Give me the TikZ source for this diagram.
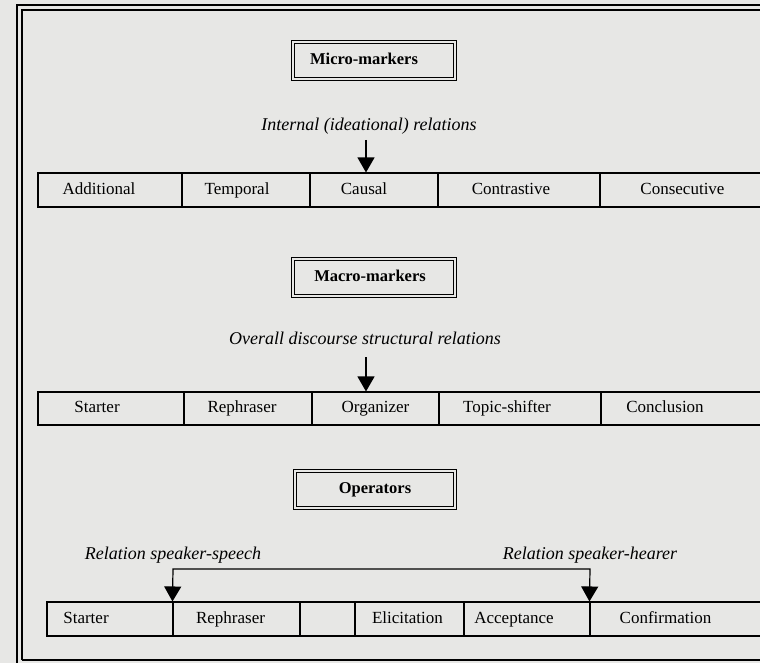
\documentclass[tikz,border=0pt]{standalone}
\usepackage{fontspec}
\setmainfont{Liberation Serif}
\usetikzlibrary{arrows.meta}
\newcommand\lsh[2]{#2\hspace*{#1}}
\begin{document}
\begin{tikzpicture}[x=1pt,y=-1pt,
  cell/.style={draw,line width=1.1pt,inner sep=0pt,minimum height=34pt,
    text height=12pt,text depth=3.5pt,
    font=\fontsize{17}{20}\selectfont},
  titlebox/.style={draw,line width=1pt,double=bgc,double distance=2pt,
    inner sep=0pt,minimum width=162pt,minimum height=37pt,
    text height=12pt,text depth=3.5pt,
    font=\fontsize{16.5}{20}\selectfont\bfseries},
  rel/.style={inner sep=0pt,font=\fontsize{18}{21}\selectfont\itshape},
  arr/.style={line width=1.2pt,-{Triangle[width=17pt,length=15pt]}},
  arrboth/.style={line width=1.2pt,{Triangle[width=17pt,length=15pt]}-{Triangle[width=17pt,length=15pt]}},
  frameline/.style={line width=1.4pt}]
\definecolor{bgc}{RGB}{231,231,229}
\useasboundingbox (0,0) rectangle (760,663);
\fill[bgc] (0,0) rectangle (760,663);
% frame
\draw[frameline] (17,663) -- (17,5) -- (762,5);
\draw[frameline] (22,660) -- (22,10) -- (762,10);
\draw[frameline] (22,660) -- (762,660);

% Micro-markers
\node[titlebox] (micro) at (373.5,60.5) {\lsh{19pt}{Micro-markers}};
\node[rel] (lab1) at (369,126) {Internal (ideational) relations};
\coordinate (s1) at (366,140);
\node[cell,minimum width=144pt] (c11) at (110,190) {\lsh{22pt}{Additional}};
\node[cell,minimum width=128pt] (c12) at (246,190) {\lsh{18pt}{Temporal}};
\node[cell,minimum width=128pt] (c13) at (374,190) {\lsh{20pt}{Causal}};
\node[cell,minimum width=162pt] (c14) at (519,190) {\lsh{16pt}{Contrastive}};
\node[cell,minimum width=165pt] (c15) at (682.5,190) {Consecutive};
\draw[arr] (s1) -- (s1 |- c13.north);

% Macro-markers
\node[titlebox] (macro) at (374,277) {\lsh{8pt}{Macro-markers}};
\node[rel] (lab2) at (365,338) {Overall discourse structural relations};
\coordinate (s2) at (366,357);
\node[cell,minimum width=146pt,minimum height=33pt] (c21) at (111,408.5) {\lsh{28pt}{Starter}};
\node[cell,minimum width=128pt,minimum height=33pt] (c22) at (248,408.5) {\lsh{12pt}{Rephraser}};
\node[cell,minimum width=127pt,minimum height=33pt] (c23) at (375.5,408.5) {Organizer};
\node[cell,minimum width=162pt,minimum height=33pt] (c24) at (520,408.5) {\lsh{26pt}{Topic-shifter}};
\node[cell,minimum width=164pt,minimum height=33pt] (c25) at (683,408.5) {\lsh{36pt}{Conclusion}};
\draw[arr] (s2) -- (s2 |- c23.north);

% Operators
\node[titlebox,minimum width=160pt] (oper) at (375,489) {Operators};
\node[rel] (lab3) at (173,555) {Relation speaker-speech};
\node[rel] (lab4) at (590,555) {Relation speaker-hearer};
\node[cell,minimum width=126pt] (c31) at (110,619) {\lsh{48pt}{Starter}};
\node[cell,minimum width=127pt] (c32) at (236.5,619) {\lsh{12pt}{Rephraser}};
\node[cell,minimum width=55pt] (c33) at (327.5,619) {};
\node[cell,minimum width=109pt] (c34) at (409.5,619) {\lsh{4pt}{Elicitation}};
\node[cell,minimum width=126pt] (c35) at (527,619) {\lsh{26pt}{Acceptance}};
\node[cell,minimum width=175pt] (c36) at (677.5,619) {\lsh{24pt}{Confirmation}};
\coordinate (jl) at (173,569);
\coordinate (jr) at (590,569);
\draw[arrboth] (c32.north west) -- (jl) -- (jr) -- (c36.north west);
\end{tikzpicture}
\end{document}
